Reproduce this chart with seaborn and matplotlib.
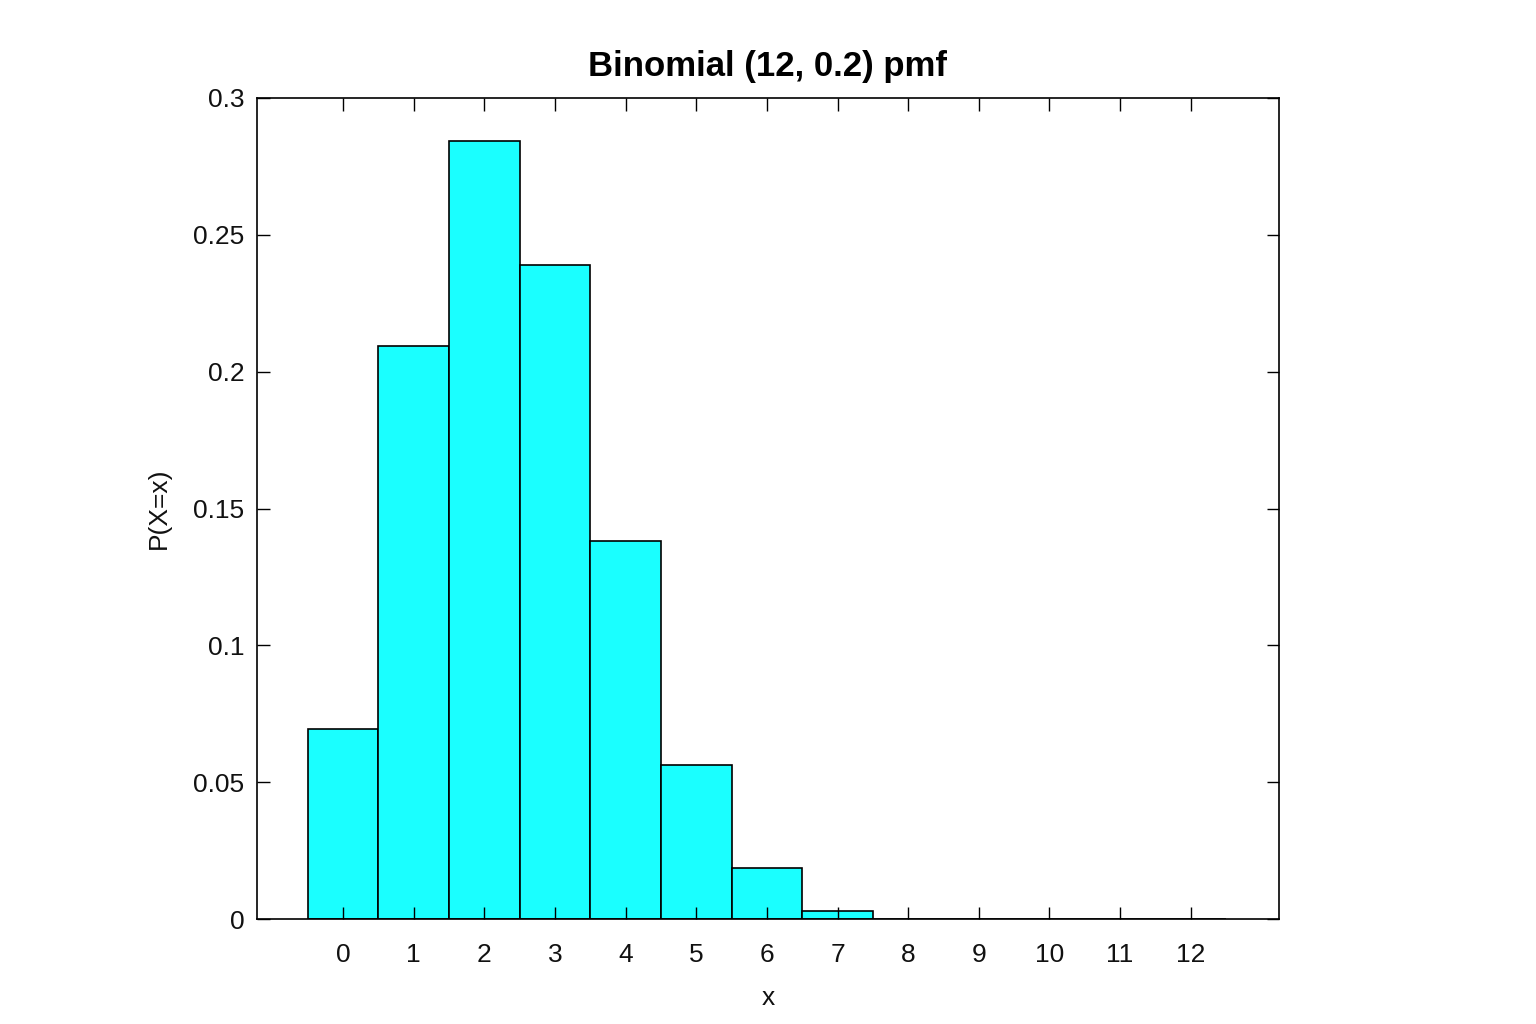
import numpy as np
import pandas as pd
import matplotlib
matplotlib.use("Agg")
import matplotlib.pyplot as plt
import seaborn as sns

# values
k_values = [0, 1, 2, 3, 4, 5, 6, 7, 8, 9, 10, 11, 12]
pmf_values = [0.0693, 0.2095, 0.2843, 0.2390, 0.1380, 0.0562, 0.0186,
              0.0029, 0.0, 0.0, 0.0, 0.0, 0.0]
y_ticks = [0, 0.05, 0.1, 0.15, 0.2, 0.25, 0.3]
y_tick_labels = ["0", "0.05", "0.1", "0.15", "0.2", "0.25", "0.3"]

sns.set_theme(style="white")
plt.rcParams["font.family"] = ["Liberation Sans", "DejaVu Sans"]

df = pd.DataFrame({"k": k_values, "pmf": pmf_values})

fig = plt.figure(figsize=(15.36, 10.24), dpi=100)
ax = fig.add_axes([0.1673, 0.1025, 0.6654, 0.8018])

sns.barplot(data=df, x="k", y="pmf", native_scale=True, width=1.0,
            color="#1AFFFF", saturation=1, edgecolor="black",
            linewidth=1.2, ax=ax)

ax.set_axisbelow(False)
ax.set_xlim(-1.22, 13.25)
ax.set_ylim(0, 0.3)
ax.set_xticks(k_values)
ax.set_xticklabels([str(k) for k in k_values])
ax.set_yticks(y_ticks)
ax.set_yticklabels(y_tick_labels)

ax.tick_params(axis="both", direction="in", length=9, width=1.0,
               color="black", labelsize=19, labelcolor="#111111",
               top=True, right=True, bottom=True, left=True)
ax.tick_params(axis="x", pad=17)
ax.tick_params(axis="y", pad=9)

for side in ["left", "right", "top", "bottom"]:
    ax.spines[side].set_visible(True)
    ax.spines[side].set_color("black")
    ax.spines[side].set_linewidth(1.2)

ax.set_title("Binomial (12, 0.2) pmf", fontsize=25, fontweight="bold",
             color="black", pad=16)
ax.set_xlabel("x", fontsize=19, labelpad=14, color="#111111")
ax.set_ylabel("P(X=x)", fontsize=19, labelpad=16, color="#111111")
ax.grid(False)

fig.savefig("out.png", dpi=100, facecolor="white")
